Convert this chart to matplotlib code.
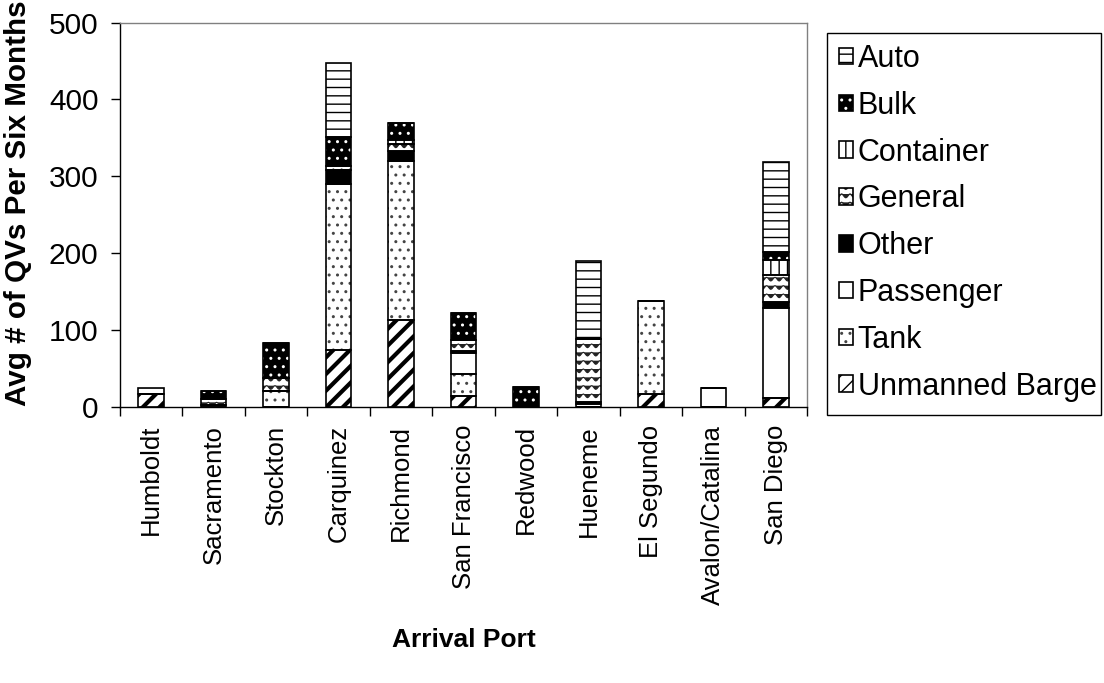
import warnings
import numpy as np
import matplotlib
matplotlib.use('Agg')
import matplotlib.pyplot as plt
import matplotlib.patches as mpatches
from matplotlib import hatch as mhatch
from matplotlib.path import Path
from matplotlib.ticker import FixedLocator, NullFormatter

warnings.filterwarnings('ignore')

# ── data ──────────────────────────────────────────────────────
ports = ['Humboldt', 'Sacramento', 'Stockton', 'Carquinez', 'Richmond',
         'San Francisco', 'Redwood', 'Hueneme', 'El Segundo',
         'Avalon/Catalina', 'San Diego']

auto      = [7, 0, 0, 97, 0, 0, 0, 102, 0, 0, 118]
bulk      = [0, 10, 45, 38, 22, 35, 26, 0, 0, 0, 10]
container = [0, 0, 0, 0, 5, 0, 0, 0, 0, 0, 19]
general   = [0, 8, 18, 5, 9, 14, 0, 82, 0, 0, 36]
other     = [0, 0, 0, 18, 13, 3, 0, 2, 0, 0, 8]
passenger = [0, 0, 0, 0, 0, 28, 0, 4, 0, 25, 117]
tank      = [0, 2, 20, 216, 207, 28, 0, 0, 121, 0, 0]
barge     = [17, 0, 0, 74, 113, 14, 0, 0, 17, 0, 11]

legend_order = ['Auto', 'Bulk', 'Container', 'General', 'Other',
                'Passenger', 'Tank', 'Unmanned Barge']
yticks = [0, 100, 200, 300, 400, 500]


# ── wavy hatch for "General" (registered as '~') ──────────────
class WaveHatch(mhatch.HatchPatternBase):
    def __init__(self, hatch, density):
        self.num_lines = int(hatch.count('~') * density)
        self.num_pts = 12 * 8 + 1
        self.num_vertices = self.num_lines * self.num_pts

    def set_vertices_and_codes(self, vertices, codes):
        xs = np.linspace(0, 1, self.num_pts)
        amp = 0.22 / max(self.num_lines, 1)
        wave = amp * np.cos(2 * np.pi * 12 * xs)
        for i in range(self.num_lines):
            sl = slice(i * self.num_pts, (i + 1) * self.num_pts)
            vertices[sl, 0] = xs
            vertices[sl, 1] = (i + 0.5) / self.num_lines + wave
            codes[sl] = Path.LINETO
            codes[i * self.num_pts] = Path.MOVETO


mhatch._hatch_types.append(WaveHatch)

plt.rcParams['font.family'] = ['Liberation Sans', 'DejaVu Sans']
plt.rcParams['hatch.linewidth'] = 1.0

FW, FH = 1104, 683
fig = plt.figure(figsize=(FW / 100, FH / 100), dpi=100, facecolor='white')
ax = fig.add_axes([0.1087, 0.4045, 0.6223, 0.5623])

# stacking order: bottom -> top  (name, values, face, hatch colour, hatch, hatch lw)
stack = [
    ('Unmanned Barge', barge,     'white', 'black', '//', 3.0),
    ('Tank',           tank,      'white', '#444444', '..', 1.0),
    ('Passenger',      passenger, 'white', 'black', '',   1.0),
    ('Other',          other,     'black', 'black', '',   1.0),
    ('General',        general,   'white', '#222222', '~~', 0.8),
    ('Container',      container, 'white', 'black', '||', 1.0),
    ('Bulk',           bulk,      'black', 'white', '..', 1.0),
    ('Auto',           auto,      'white', 'black', '--', 1.0),
]

x = np.arange(len(ports))
bottom = np.zeros(len(ports))
W = 0.41
handles = {}
for name, vals, face, hcol, hatch, hlw in stack:
    vals = np.asarray(vals, dtype=float)
    with plt.rc_context({'hatch.linewidth': hlw}):
        fill = ax.bar(x, vals, W, bottom=bottom, color=face, edgecolor=hcol,
                      hatch=hatch, linewidth=0, zorder=2)
    for p in fill:
        if hasattr(p, 'set_hatch_linewidth'):
            p.set_hatch_linewidth(hlw)
    edge = ax.bar(x, vals, W, bottom=bottom, fill=False, edgecolor='black',
                  linewidth=1.2, zorder=3)
    handles[name] = (fill.patches[0], edge.patches[0])
    bottom += vals

# ── axes ──────────────────────────────────────────────────────
ax.set_xlim(-0.5, len(ports) - 0.5)
ax.set_ylim(0, 500)
ax.set_yticks(yticks)
ax.tick_params(axis='y', labelsize=21.5, length=6.5, width=1, pad=9, direction='out')

ax.xaxis.set_major_locator(FixedLocator(np.arange(len(ports) + 1) - 0.5))
ax.xaxis.set_major_formatter(NullFormatter())
ax.set_xticks(x, ports, minor=True, rotation=90, fontsize=18.5)
ax.tick_params(axis='x', which='major', length=6.5, width=1, direction='out')
ax.tick_params(axis='x', which='minor', length=0, pad=13)

for s in ['top', 'right']:
    ax.spines[s].set_color('#808080')
    ax.spines[s].set_linewidth(1.0)
for s in ['left', 'bottom']:
    ax.spines[s].set_color('black')
    ax.spines[s].set_linewidth(1.0)

ax.set_ylabel('Avg # of QVs Per Six Months', fontsize=21.3, fontweight='bold')
ax.yaxis.set_label_coords(-0.128, 0.53)
ax.set_xlabel('Arrival Port', fontsize=19, fontweight='bold')
ax.xaxis.set_label_coords(0.5, -0.575)

# ── legend (frame drawn separately so the inner padding matches) ──
fig.patches.append(mpatches.Rectangle((827 / FW, 1 - 415 / FH),
                                      (1101 - 827) / FW, (415 - 33) / FH,
                                      transform=fig.transFigure, fill=False,
                                      edgecolor='black', linewidth=1.0))
leg = fig.legend([handles[n] for n in legend_order], legend_order,
                 loc='upper left', bbox_to_anchor=(839 / FW, 1 - 44 / FH),
                 bbox_transform=fig.transFigure, fontsize=22, frameon=False,
                 handlelength=0.46, handleheight=0.46, handletextpad=0.15,
                 labelspacing=0.55, borderpad=0, borderaxespad=0)

fig.savefig('out.png', dpi=100, facecolor='white')
